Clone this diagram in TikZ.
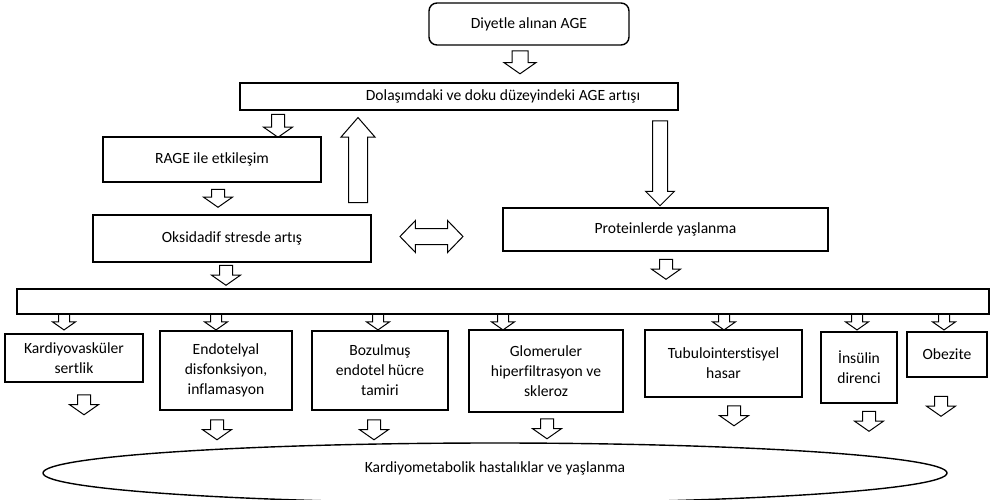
\documentclass[tikz,border=0pt]{standalone}
\usepackage{fontspec}
\setmainfont{Carlito}[Ligatures=NoCommon]
\usetikzlibrary{shapes.arrows,shapes.geometric}

\begin{document}
\begin{tikzpicture}[x=1pt,y=-1pt,font=\fontsize{15.6}{20}\selectfont,
	box/.style={draw,line width=1.4pt,align=center,inner sep=2pt},
	arr/.style={single arrow,draw,line width=1pt,shape border rotate=270,inner sep=6pt,single arrow tip angle=110,single arrow head extend=8pt,minimum width=28pt,minimum height=20pt},
	smallarr/.style={arr,inner sep=5pt,minimum width=22pt,minimum height=16pt,single arrow head extend=6pt}]
	\useasboundingbox (0,0) rectangle (992,500);
	\node[box,rounded corners=8pt,minimum width=200,minimum height=42] (diyet) at (529,24) {Diyetle alınan AGE};
	\node[box,minimum width=438,minimum height=27,label={[xshift=44pt]center:Dolaşımdaki ve doku düzeyindeki AGE artışı}] (dolasim) at (459,96.5) {};
	\node[box,minimum width=218,minimum height=45] (rage) at (212,159.5) {RAGE ile etkileşim};
	\node[box,minimum width=278,minimum height=47] (oksid) at (232,238.5) {Oksidadif stresde artış};
	\node[box,minimum width=325,minimum height=43] (protein) at (665.5,229.5) {Proteinlerde yaşlanma};
	\node[box,minimum width=972,minimum height=25] (hepsi) at (503,301.5) {};
	\node[box,minimum width=138,minimum height=48] (kardiyo) at (74,358) {Kardiyovasküler\\sertlik};
	\node[box,minimum width=132,minimum height=79] (endotel) at (226,370.5) {Endotelyal\\disfonksiyon,\\inflamasyon};
	\node[box,minimum width=136,minimum height=79] (bozulmus) at (380,370.5) {Bozulmuş\\endotel hücre\\tamiri};
	\node[box,minimum width=154,minimum height=82] (glomer) at (546,371) {Glomeruler\\hiperfiltrasyon ve\\skleroz};
	\node[box,minimum width=157,minimum height=67] (tubulo) at (723.5,363.5) {Tubulointerstisyel\\hasar};
	\node[box,minimum width=76,minimum height=71] (insulin) at (859,367.5) {İnsülin\\direnci};
	\node[box,minimum width=80,minimum height=45] (obezite) at (947,354.5) {Obezite};
	\node[draw,ellipse,line width=1.4pt,minimum width=904,minimum height=60,label={[yshift=5pt]center:Kardiyometabolik hastalıklar ve yaşlanma}] (kmh) at (495,473) {};

	\node[arr,inner sep=7.5pt,minimum width=31,minimum height=23] (a1) at (520,59.5) {};
	\node[arr,minimum height=23] (a2) at (278,123.5) {};
	\node[arr,minimum height=18] (a3) at (218,196) {};
	\node[arr] (a4) at (226,273) {};
	\node[arr] (a5) at (666,267) {};
	\node[single arrow,draw,line width=1pt,shape border rotate=270,inner sep=7pt,single arrow tip angle=90,single arrow head extend=7pt,minimum width=28,minimum height=85] (buyukasagi) at (660,159.5) {};
	\node[single arrow,draw,line width=1pt,shape border rotate=90,inner sep=9pt,single arrow tip angle=82,single arrow head extend=7.5pt,minimum width=33,minimum height=85] (buyukyukari) at (358,165.5) {};
	\node[double arrow,draw,line width=1pt,inner sep=7.5pt,double arrow tip angle=92,double arrow head extend=8pt,minimum width=31,minimum height=63] (karsilikli) at (431.5,236.5) {};

	\node[smallarr] (g1) at (64,320) {};
	\node[smallarr] (g2) at (216,320) {};
	\node[smallarr] (g3) at (378,320) {};
	\node[smallarr] (g4) at (503,320) {};
	\node[smallarr] (g5) at (724,320) {};
	\node[smallarr] (g6) at (857,320) {};
	\node[smallarr] (g7) at (944,320) {};

	\node[arr] (c1) at (84,402.5) {};
	\node[arr] (c2) at (217,427.5) {};
	\node[arr] (c3) at (374,427.5) {};
	\node[arr] (c4) at (547,426.5) {};
	\node[arr] (c5) at (734,413.5) {};
	\node[arr] (c6) at (869,419) {};
	\node[arr] (c7) at (941,404) {};
\end{tikzpicture}
\end{document}
